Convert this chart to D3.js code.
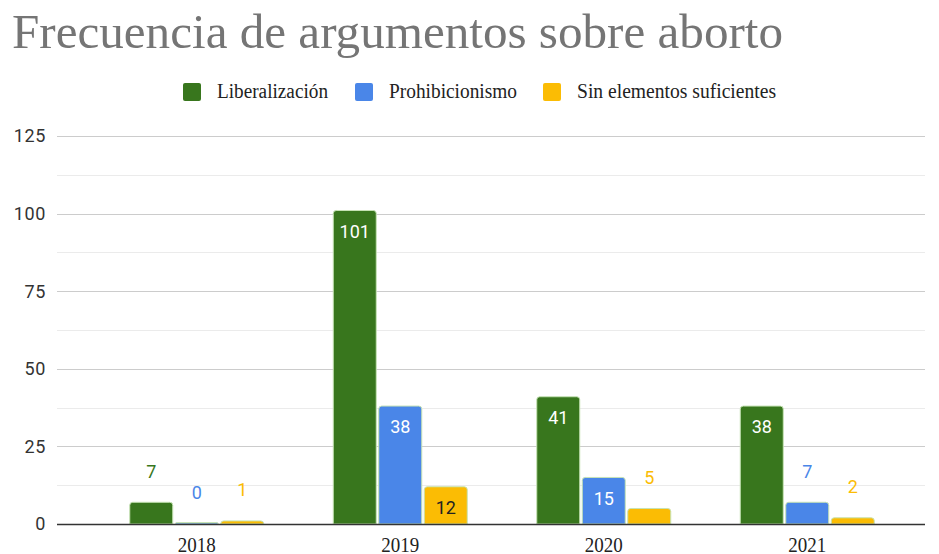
<!DOCTYPE html>
<html>
<head>
<meta charset="utf-8">
<script src="https://cdn.jsdelivr.net/npm/d3@7"></script>
<style>
  body { margin: 0; background: #fff; }
  #chart { width: 939px; height: 554px; }
</style>
</head>
<body>
<div id="chart"></div>
<script>
const years = ["2018", "2019", "2020", "2021"];
const seriesNames = ["Liberalización", "Prohibicionismo", "Sin elementos suficientes"];
const liberalizacion = [7, 101, 41, 38];
const prohibicionismo = [0, 38, 15, 7];
const sinElementos = [1, 12, 5, 2];
const yTicks = [0, 25, 50, 75, 100, 125];

const colors = ["#38761d", "#4a86e8", "#fbbc04"];
const insideText = ["#ffffff", "#ffffff", "#222222"];
const serif = "'Liberation Serif', 'Times New Roman', serif";

const width = 939, height = 554;
const svg = d3.select("#chart").append("svg")
    .attr("width", width)
    .attr("height", height);

// title, squeezed to the reference width
svg.append("text")
    .attr("x", 12)
    .attr("y", 48)
    .attr("font-family", serif)
    .attr("font-size", 48)
    .attr("fill", "#757575")
    .attr("textLength", 771)
    .attr("lengthAdjust", "spacingAndGlyphs")
    .text("Frecuencia de argumentos sobre aborto");

const y = d3.scaleLinear().domain([0, 125]).range([524, 136]);
const x0 = d3.scaleBand().domain(years).range([95, 909]);
const barW = 43, barGap = 2.5;

// minor + major gridlines
const minor = d3.range(12.5, 125, 25);
svg.append("g").selectAll("line").data(minor).join("line")
    .attr("x1", 57).attr("x2", 925)
    .attr("y1", d => Math.round(y(d)) + 0.5).attr("y2", d => Math.round(y(d)) + 0.5)
    .attr("stroke", "#ebebeb");
svg.append("g").selectAll("line").data(yTicks.slice(1)).join("line")
    .attr("x1", 57).attr("x2", 925)
    .attr("y1", d => Math.round(y(d)) + 0.5).attr("y2", d => Math.round(y(d)) + 0.5)
    .attr("stroke", "#cccccc");

// y tick labels
svg.append("g").selectAll("text").data(yTicks).join("text")
    .attr("x", 46)
    .attr("y", d => y(d))
    .attr("dy", "0.35em")
    .attr("text-anchor", "end")
    .attr("font-family", "Roboto, Arial, sans-serif")
    .attr("font-size", 18)
    .attr("letter-spacing", 0.6)
    .attr("fill", "#333")
    .text(d => d);

// bars
const series = [liberalizacion, prohibicionismo, sinElementos];
const rows = [];
series.forEach((vals, s) => {
    vals.forEach((v, i) => rows.push({ s, year: years[i], v }));
});

function barX(d) {
    const c = x0(d.year) + x0.bandwidth() / 2;
    return c - (3 * barW + 2 * barGap) / 2 + d.s * (barW + barGap);
}

function roundedTop(x, yTop, w, h, r) {
    r = Math.min(r, h, w / 2);
    const yb = yTop + h;
    return `M${x},${yb}V${yTop + r}Q${x},${yTop} ${x + r},${yTop}H${x + w - r}Q${x + w},${yTop} ${x + w},${yTop + r}V${yb}Z`;
}

svg.append("g").selectAll("path").data(rows).join("path")
    .attr("d", d => {
        const top = y(d.v);
        const h = Math.max(y(0) - top, 1.5);
        return roundedTop(barX(d), y(0) - h, barW, h, 3);
    })
    .attr("fill", d => colors[d.s])
    .attr("stroke", "#c6e3b5")
    .attr("stroke-width", 1);

// baseline
svg.append("line")
    .attr("x1", 57).attr("x2", 925)
    .attr("y1", y(0) + 0.5).attr("y2", y(0) + 0.5)
    .attr("stroke", "#333").attr("stroke-width", 1.5);

// value labels
svg.append("g").selectAll("text").data(rows).join("text")
    .attr("x", d => barX(d) + barW / 2)
    .attr("y", d => d.v >= 12 ? y(d.v) + 21 : y(d.v) - 31)
    .attr("dy", "0.35em")
    .attr("text-anchor", "middle")
    .attr("font-family", "Roboto, Arial, sans-serif")
    .attr("font-size", 18)
    .attr("fill", d => d.v >= 12 ? insideText[d.s] : colors[d.s])
    .text(d => d.v);

// x labels (bottom edge as in the reference)
svg.append("g").selectAll("text").data(years).join("text")
    .attr("x", d => x0(d) + x0.bandwidth() / 2)
    .attr("y", 552)
    .attr("text-anchor", "middle")
    .attr("font-family", serif)
    .attr("font-size", 21)
    .attr("textLength", 38)
    .attr("lengthAdjust", "spacingAndGlyphs")
    .attr("fill", "#222")
    .text(d => d);

// legend
const legendX = [183, 355, 543];
const legendW = [111, 128, 199];
const legend = svg.append("g").selectAll("g").data(seriesNames).join("g")
    .attr("transform", (d, i) => `translate(${legendX[i]},83)`);
legend.append("rect")
    .attr("width", 18).attr("height", 18).attr("rx", 2)
    .attr("fill", (d, i) => colors[i]);
legend.append("text")
    .attr("x", 34).attr("y", 15)
    .attr("font-family", serif)
    .attr("font-size", 20)
    .attr("fill", "#222")
    .attr("textLength", (d, i) => legendW[i])
    .attr("lengthAdjust", "spacingAndGlyphs")
    .text(d => d);
</script>
</body>
</html>
